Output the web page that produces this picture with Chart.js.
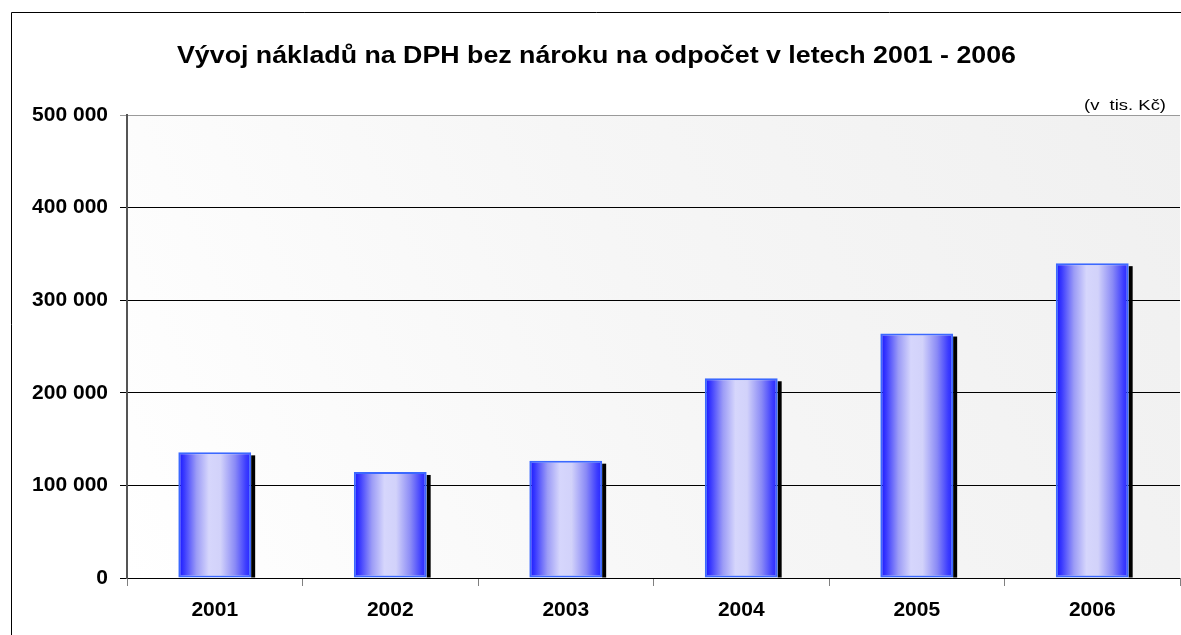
<!DOCTYPE html>
<html>
<head>
<meta charset="utf-8">
<script src="https://cdn.jsdelivr.net/npm/chart.js@4"></script>
<style>
  html, body { margin: 0; padding: 0; background: #fff; }
  #wrap { width: 1181px; height: 635px; position: relative; }
</style>
</head>
<body>
<div id="wrap"><canvas id="c" width="1181" height="635"></canvas></div>
<script>
// Data
const years = ['2001', '2002', '2003', '2004', '2005', '2006'];
const costs = [135700, 114500, 126700, 215700, 264000, 340000];
const titleText = 'Vývoj nákladů na DPH bez nároku na odpočet v letech 2001 - 2006';
const unitText = '(v  tis. Kč)';
const yTicks = [0, 100000, 200000, 300000, 400000, 500000];

const FONT = '"Liberation Sans", Arial, sans-serif';
const BAR_PCT = 0.415;

function fmt(v) {
    return String(v).replace(/\B(?=(\d{3})+(?!\d))/g, ' ');
}

// bar fill: horizontal cylinder-ish gradient
function barFill(ctx) {
    const chart = ctx.chart;
    const xs = chart.scales.x;
    if (!xs || ctx.dataIndex === undefined) return '#6666ff';
    const cx = xs.getPixelForValue(ctx.dataIndex);
    const w = xs.width / years.length * BAR_PCT;
    if (!isFinite(cx) || !isFinite(w) || w <= 0) return '#6666ff';
    const g = chart.ctx.createLinearGradient(cx - w / 2, 0, cx + w / 2, 0);
    g.addColorStop(0, '#1414ff');
    g.addColorStop(0.08, '#3a3aff');
    g.addColorStop(0.25, '#9c9cf6');
    g.addColorStop(0.42, '#d6d6fc');
    g.addColorStop(0.58, '#d2d2fa');
    g.addColorStop(0.78, '#8a8af6');
    g.addColorStop(0.93, '#3c3cff');
    g.addColorStop(1, '#2424ff');
    return g;
}

// text stretched horizontally to a given width (the original looks widened)
function wideText(c, text, font, left, right, y) {
    c.save();
    c.font = font;
    c.textAlign = 'left';
    c.textBaseline = 'middle';
    const w = c.measureText(text).width;
    const sx = (right - left) / w;
    c.translate(left, y);
    c.scale(sx, 1);
    c.fillText(text, 0, 0);
    c.restore();
}

// background of plot, outer frame, title texts
const decor = {
    id: 'decor',
    beforeDraw(chart) {
        const c = chart.ctx, a = chart.chartArea;
        c.save();
        const g = c.createLinearGradient(a.left, a.bottom, a.right, a.top);
        g.addColorStop(0, '#ffffff');
        g.addColorStop(0.5, '#f6f6f6');
        g.addColorStop(1, '#f0f0f0');
        c.fillStyle = g;
        c.fillRect(a.left, a.top, a.right - a.left, a.bottom - a.top);

        // outer frame
        c.strokeStyle = '#000';
        c.lineWidth = 1;
        c.beginPath();
        c.moveTo(11.5, 640);
        c.lineTo(11.5, 12.5);
        c.lineTo(1190, 12.5);
        c.stroke();

        c.fillStyle = '#000';
        wideText(c, titleText, 'bold 23px ' + FONT, 177, 1016, 57);
        wideText(c, unitText, '15px ' + FONT, 1084, 1166, 106);
        c.restore();
    },
    beforeDatasetsDraw(chart) {
        // black drop shadow on the right of each bar
        const c = chart.ctx;
        const meta = chart.getDatasetMeta(0);
        c.save();
        c.fillStyle = '#000';
        meta.data.forEach(b => {
            const right = b.x + b.width / 2;
            c.fillRect(right, b.y + 3, 4, b.base - b.y - 3);
        });
        c.restore();
    }
};

new Chart(document.getElementById('c'), {
    type: 'bar',
    data: {
        labels: years,
        datasets: [{
            data: costs,
            backgroundColor: barFill,
            borderColor: '#3b68ff',
            borderWidth: 2,
            borderSkipped: false,
            barPercentage: BAR_PCT,
            categoryPercentage: 1
        }]
    },
    options: {
        responsive: false,
        animation: false,
        layout: { padding: { left: 0, top: 115, right: 1, bottom: 0 } },
        plugins: {
            legend: { display: false },
            tooltip: { enabled: false }
        },
        scales: {
            x: {
                offset: true,
                grid: {
                    offset: true,
                    drawOnChartArea: false,
                    color: '#808080',
                    tickLength: 8
                },
                border: { display: false },
                ticks: {
                    color: '#000',
                    padding: 12,
                    font: { family: FONT, size: 21, weight: 'bold' }
                },
                afterFit(s) { s.height = 57; }
            },
            y: {
                min: 0,
                max: 500000,
                afterBuildTicks(s) { s.ticks = yTicks.map(v => ({ value: v })); },
                grid: {
                    color: ctx => ctx.tick && ctx.tick.value === 500000 ? '#9a9a9a' : '#000',
                    lineWidth: 1,
                    tickLength: 7
                },
                border: { display: true, color: '#555', width: 2 },
                ticks: {
                    color: '#000',
                    padding: 12,
                    font: { family: FONT, size: 21, weight: 'bold' },
                    callback: v => fmt(v)
                },
                afterFit(s) { s.width = 127; }
            }
        }
    },
    plugins: [decor]
});
</script>
</body>
</html>
